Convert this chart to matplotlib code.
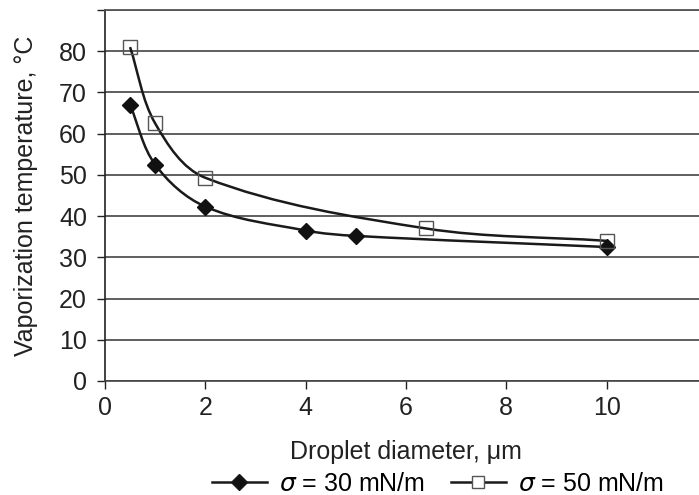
import numpy as np
import matplotlib
matplotlib.use("Agg")
from matplotlib import pyplot as plt
from matplotlib.path import Path
from matplotlib.patches import PathPatch
from matplotlib.lines import Line2D

plt.rcParams['font.family'] = ['Liberation Sans', 'DejaVu Sans']
plt.rcParams['mathtext.fontset'] = 'dejavusans'

# droplet diameter (um) and vaporization temperature (C)
d_30 = [0.5, 1, 2, 4, 5, 10]
t_30 = [67, 52.5, 42.3, 36.5, 35.2, 32.5]
d_50 = [0.5, 1, 2, 6.4, 10]
t_50 = [81, 62.5, 49.3, 37, 34]

x_ticks = [0, 2, 4, 6, 8, 10]
y_ticks = [0, 10, 20, 30, 40, 50, 60, 70, 80, 90]
y_labels = ['0', '10', '20', '30', '40', '50', '60', '70', '80', '']


def smooth_path(ax, xs, ys):
    """Smoothed bezier line through the points, tangents worked out in screen space."""
    to_disp = ax.transData
    pts = to_disp.transform(np.column_stack([xs, ys]).astype(float))
    n = len(pts)
    tang = []
    for i in range(n):
        a = pts[max(i - 1, 0)]
        b = pts[min(i + 1, n - 1)]
        v = b - a
        tang.append(v / np.hypot(*v))
    verts = [pts[0]]
    codes = [Path.MOVETO]
    for i in range(n - 1):
        seg = np.hypot(*(pts[i + 1] - pts[i])) / 3.0
        verts += [pts[i] + tang[i] * seg, pts[i + 1] - tang[i + 1] * seg, pts[i + 1]]
        codes += [Path.CURVE4] * 3
    verts = to_disp.inverted().transform(np.array(verts))
    return Path(verts, codes)


fig = plt.figure(figsize=(6.99, 4.95), dpi=100)
ax = fig.add_axes([105 / 699, 114 / 495, 602 / 699, 371 / 495])

ax.set_xlim(0, 12)
ax.set_ylim(0, 90)
ax.set_xticks(x_ticks)
ax.set_yticks(y_ticks)
ax.set_yticklabels(y_labels)
ax.grid(axis='y', color='#444444', linewidth=1.2)
ax.set_axisbelow(True)
ax.spines['right'].set_visible(False)
ax.spines['top'].set_visible(True)
ax.spines['top'].set_color('#555555')
ax.spines['top'].set_linewidth(1.3)
ax.spines['left'].set_color('#222222')
ax.spines['bottom'].set_color('#444444')
ax.spines['left'].set_linewidth(1.2)
ax.spines['bottom'].set_linewidth(1.2)
ax.tick_params(axis='both', labelsize=18, colors='#222222', length=6, width=1.0)
ax.tick_params(axis='x', pad=5)
ax.tick_params(axis='y', pad=7)

# smoothed curves through each series
ax.add_patch(PathPatch(smooth_path(ax, d_30, t_30), facecolor='none', edgecolor='#1a1a1a', linewidth=1.8))
ax.add_patch(PathPatch(smooth_path(ax, d_50, t_50), facecolor='none', edgecolor='#1a1a1a', linewidth=1.8))

ax.plot(d_30, t_30, linestyle='none', marker='D', markersize=8, color='#111111', zorder=5)
ax.plot(d_50, t_50, linestyle='none', marker='s', markersize=10, markerfacecolor='none',
        markeredgecolor='#555555', markeredgewidth=1.0, zorder=5)

ax.set_xlabel('Droplet diameter, \u03bcm', fontsize=18, color='#222222', labelpad=14)
ax.set_ylabel('Vaporization temperature, \u00b0C', fontsize=18, color='#222222', labelpad=15)

handles = [
    Line2D([], [], color='#1a1a1a', linewidth=1.8, marker='D', markersize=8, markerfacecolor='#111111'),
    Line2D([], [], color='#1a1a1a', linewidth=1.8, marker='s', markersize=9,
           markerfacecolor='white', markeredgecolor='#555555', markeredgewidth=1.0),
]
fig.legend(handles, [r'$\sigma$ = 30 mN/m', r'$\sigma$ = 50 mN/m'], loc='center',
           bbox_to_anchor=(438 / 699, 1 - 484 / 495), ncol=2, frameon=False, fontsize=18,
           handlelength=2.2, handletextpad=0.5, columnspacing=1.0, markerscale=1.0,
           borderpad=0.1)

fig.savefig('out.png', dpi=100)
